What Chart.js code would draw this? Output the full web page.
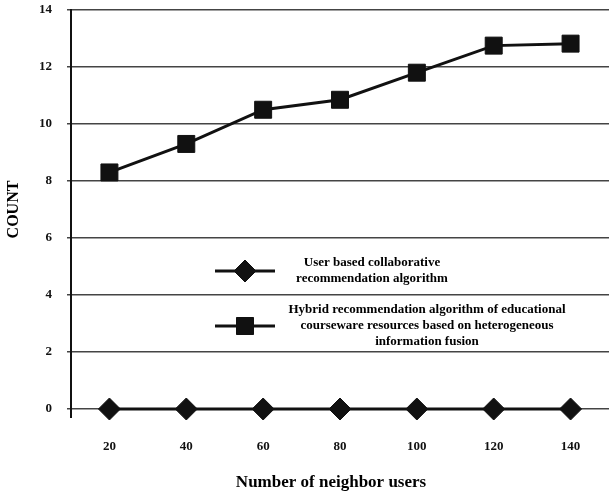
<!DOCTYPE html>
<html>
<head>
<meta charset="utf-8">
<script src="https://cdn.jsdelivr.net/npm/chart.js@4/dist/chart.umd.min.js"></script>
<style>
  html, body { margin: 0; padding: 0; background: #fff; overflow: hidden; }
  canvas { display: block; }
</style>
</head>
<body>
<canvas id="line-chart" width="609" height="494"></canvas>
<script>
// values
let neighborUsers = ['20', '40', '60', '80', '100', '120', '140'];
let userBasedCounts = [0, 0, 0, 0, 0, 0, 0];
let hybridCounts = [8.3, 9.3, 10.5, 10.85, 11.8, 12.75, 12.82];
let countTicks = [0, 2, 4, 6, 8, 10, 12, 14];

let xTitle = 'Number of neighbor users';
let seriesNames = [
  ['User based collaborative', 'recommendation algorithm'],
  ['Hybrid recommendation algorithm of educational',
   'courseware resources based on heterogeneous',
   'information fusion']
];

const ink = '#111';
const serif = "'Liberation Serif', 'Times New Roman', serif";

// tick label padding should not push the plot inwards
function noPad(scale) {
  scale.paddingTop = 0;
  scale.paddingBottom = 0;
  scale.paddingLeft = 0;
  scale.paddingRight = 0;
}

// legend sits inside the plot, between the gridlines
const innerLegend = {
  id: 'innerLegend',
  afterDraw(chart) {
    let ctx = chart.ctx;
    let y0 = chart.scales.y;
    ctx.save();
    // y axis runs a bit below zero
    ctx.strokeStyle = ink;
    ctx.lineWidth = 2;
    ctx.beginPath();
    ctx.moveTo(chart.chartArea.left, y0.getPixelForValue(0));
    ctx.lineTo(chart.chartArea.left, y0.getPixelForValue(0) + 9);
    ctx.stroke();

    // x title sits a little left of centre in the original
    ctx.fillStyle = '#000';
    ctx.font = 'bold 17px ' + serif;
    ctx.textAlign = 'center';
    ctx.textBaseline = 'middle';
    ctx.fillText(xTitle, 331, 483);

    let rows = [
      { sx: 245, sy: 271, tx: 372, ty: 263, style: 'rectRot', r: 11 },
      { sx: 245, sy: 326, tx: 427, ty: 310, style: 'rect', r: 12 }
    ];
    ctx.font = 'bold 13px ' + serif;
    rows.forEach((row, i) => {
      ctx.strokeStyle = ink;
      ctx.lineWidth = 3;
      ctx.beginPath();
      ctx.moveTo(row.sx - 30, row.sy);
      ctx.lineTo(row.sx + 30, row.sy);
      ctx.stroke();
      ctx.fillStyle = ink;
      ctx.lineWidth = 1;
      Chart.helpers.drawPoint(ctx, { pointStyle: row.style, radius: row.r, borderWidth: 1 }, row.sx, row.sy);
      ctx.fill();
      ctx.fillStyle = '#000';
      seriesNames[i].forEach((line, k) => {
        ctx.fillText(line, row.tx, row.ty + k * 16);
      });
    });
    ctx.restore();
  }
};

new Chart(document.getElementById('line-chart'), {
  type: 'line',
  data: {
    labels: neighborUsers,
    datasets: [
      {
        label: seriesNames[0].join(' '),
        data: userBasedCounts,
        borderColor: ink,
        backgroundColor: ink,
        borderWidth: 3,
        pointStyle: 'rectRot',
        pointRadius: 11,
        pointBorderWidth: 1,
        clip: false
      },
      {
        label: seriesNames[1].join(' '),
        data: hybridCounts,
        borderColor: ink,
        backgroundColor: ink,
        borderWidth: 3,
        pointStyle: 'rect',
        pointRadius: 12,
        pointBorderWidth: 1,
        clip: false
      }
    ]
  },
  options: {
    responsive: false,
    animation: false,
    // plot runs slightly past the right edge of the picture
    layout: { autoPadding: false, padding: { top: 10, left: 0, right: -6, bottom: 0 } },
    plugins: {
      legend: { display: false },
      tooltip: { enabled: false }
    },
    scales: {
      x: {
        offset: true,
        grid: { display: false, drawTicks: false },
        border: { display: false },
        ticks: {
          color: '#111',
          padding: 30,
          maxRotation: 0,
          font: { family: serif, size: 13, weight: 'bold' }
        },
        afterFit(scale) { scale.height = 85; noPad(scale); }
      },
      y: {
        min: 0,
        max: 14,
        afterBuildTicks(scale) { scale.ticks = countTicks.map(v => ({ value: v })); },
        grid: { color: '#444', lineWidth: 1.5, tickLength: 4 },
        border: { color: ink, width: 2 },
        ticks: {
          color: '#111',
          padding: 15,
          font: { family: serif, size: 13, weight: 'bold' }
        },
        title: {
          display: true,
          text: 'COUNT',
          color: '#000',
          padding: { top: 4, bottom: 0 },
          font: { family: serif, size: 16, weight: 'bold' }
        },
        afterFit(scale) { scale.width = 71; noPad(scale); }
      }
    }
  },
  plugins: [innerLegend]
});
</script>
</body>
</html>
